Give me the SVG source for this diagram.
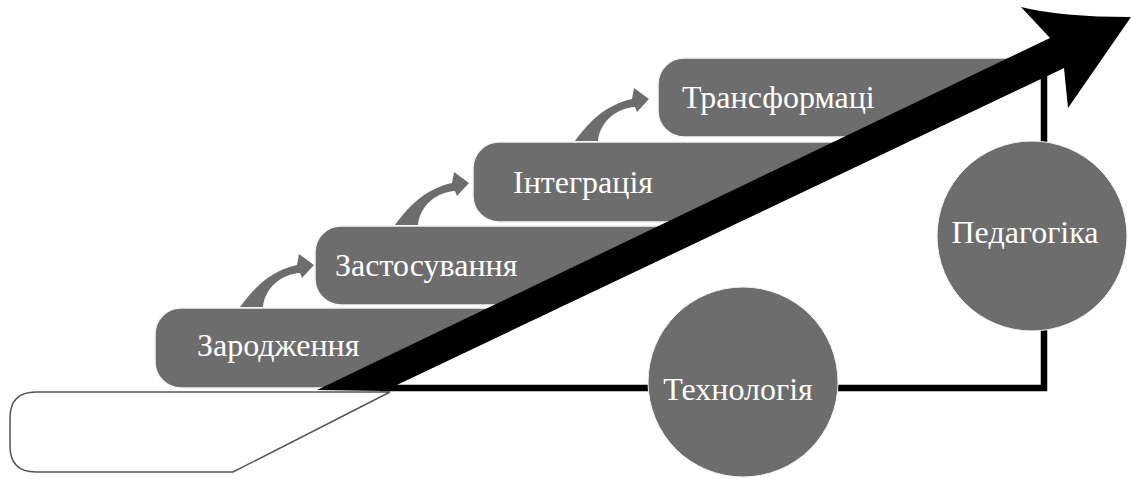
<svg xmlns="http://www.w3.org/2000/svg" width="1131" height="479" viewBox="0 0 1131 479">
<defs>
<style>
.box{fill:#6d6d6d;stroke:#f4f4f4;stroke-width:1.5}
.circ{fill:#6d6d6d;stroke:#f4f4f4;stroke-width:1}
.lbl{font-family:"Liberation Serif","Times New Roman",serif;font-size:32px;fill:#ffffff}
.curl{fill:#6d6d6d}
.wire{fill:none;stroke:#000;stroke-width:6.5;stroke-linejoin:miter}
</style>
<clipPath id="leftOfArrow">
<polygon points="0,0 1131,0 1131,36 384,391 384,479 0,479"/>
</clipPath>
<path id="curl" d="M0 0 C10 -14 28 -36 57 -42 L59 -53 L74 -42 L62 -29 L60 -34 C42 -33 25 -20 23 0 Z"/>
</defs>
<rect width="1131" height="479" fill="#ffffff"/>

<g id="base">
<path d="M390 392 L233 472 L36 472 Q10 472 10 446 L10 418 Q10 392 36 392 Z" fill="#ffffff" stroke="#555555" stroke-width="1.5"/>
</g>

<g id="steps" clip-path="url(#leftOfArrow)">
<g id="step-zarodzhennia">
<rect class="box" x="155" y="308" width="900" height="80" rx="26"/>
<text class="lbl" x="197" y="356">Зародження</text>
</g>
<g id="step-zastosuvannia">
<rect class="box" x="315" y="226" width="800" height="79" rx="26"/>
<text class="lbl" x="335" y="276">Застосування</text>
</g>
<g id="step-intehratsiia">
<rect class="box" x="473" y="142" width="700" height="80" rx="26"/>
<text class="lbl" x="513" y="193">Інтеграція</text>
</g>
<g id="step-transformatsii">
<rect class="box" x="658" y="58" width="500" height="79" rx="26"/>
<text class="lbl" x="682" y="108">Трансформаці</text>
</g>
</g>

<g id="connectors">
<use href="#curl" class="curl" transform="translate(240,307)"/>
<use href="#curl" class="curl" transform="translate(395,225)"/>
<use href="#curl" class="curl" transform="translate(575,141)"/>
<path class="wire" d="M380 388 H1044 V74"/>
</g>

<g id="technolohiia">
<circle class="circ" cx="743" cy="382" r="95"/>
<text class="lbl" x="738" y="400" text-anchor="middle">Технологія</text>
</g>
<g id="pedahohika">
<circle class="circ" cx="1032" cy="236" r="95"/>
<text class="lbl" x="1025" y="243" text-anchor="middle">Педагогіка</text>
</g>

<g id="progress-arrow">
<path d="M317 390 L1050 38 L1021 7 Q1060 17 1131 17 L1068 108 L1064 68 L384 391 Z" fill="#000000"/>
</g>
</svg>
